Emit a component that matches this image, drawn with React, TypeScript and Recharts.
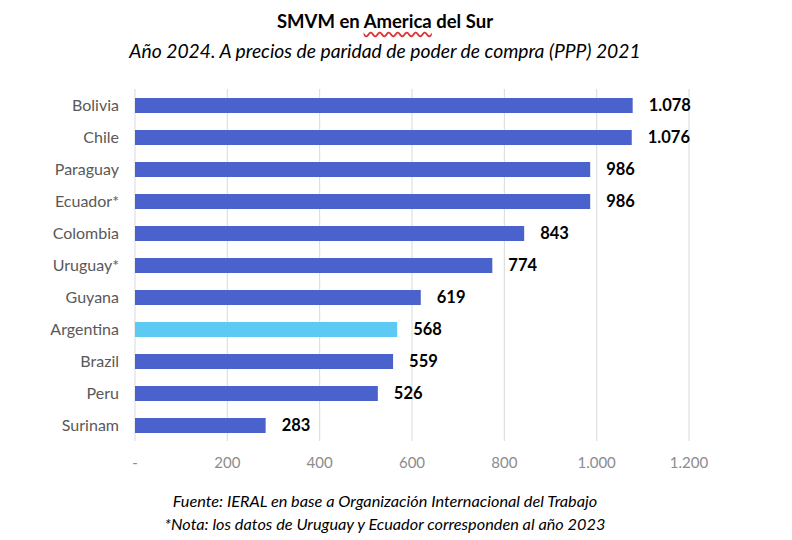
import { BarChart, Bar, XAxis, YAxis, CartesianGrid, Cell, LabelList } from 'recharts'

const countries = ['Bolivia', 'Chile', 'Paraguay', 'Ecuador*', 'Colombia', 'Uruguay*', 'Guyana', 'Argentina', 'Brazil', 'Peru', 'Surinam']
const smvm = [1078, 1076, 986, 986, 843, 774, 619, 568, 559, 526, 283]
const xTicks = [0, 200, 400, 600, 800, 1000, 1200]
const highlight = 'Argentina'

const BLUE = '#4a62cb'
const LIGHT = '#5ccaf3'
const FONT = 'Lato, "Noto Sans", sans-serif'

const data = countries.map((name, i) => ({ name, value: smvm[i] }))

// es-AR style thousands separator, "-" for zero like the excel original
const fmt = (v: number) => (v === 0 ? '-' : v.toLocaleString('de-DE'))

// text blocks in the original are centred a bit left of the page middle
const textBox = { position: 'absolute' as const, left: 0, width: 770, textAlign: 'center' as const, color: '#000' }

export default function App() {
  return (
    <div style={{ position: 'absolute', left: 0, top: 0, width: 792, height: 540, background: '#fff', fontFamily: FONT }}>
      <div style={{ ...textBox, top: 10, fontWeight: 700, fontSize: 18.5 }}>
        SMVM en{' '}
        <span style={{ textDecoration: 'underline wavy #d33', textUnderlineOffset: 3 }}>America</span> del Sur
      </div>
      <div style={{ ...textBox, top: 39, fontStyle: 'italic', fontSize: 19.3 }}>
        Año 2024. A precios de paridad de poder de compra (PPP) 2021
      </div>
      <BarChart
        width={792}
        height={540}
        data={data}
        layout="vertical"
        margin={{ top: 89, right: 103, left: 0, bottom: 69 }}
        barSize={15}
      >
        <CartesianGrid horizontal={false} stroke="#d9d9d9" />
        <XAxis
          type="number"
          domain={[0, 1200]}
          ticks={xTicks}
          tickFormatter={fmt}
          axisLine={false}
          tickLine={false}
          tickSize={0}
          tickMargin={16}
          height={30}
          tick={{ fill: '#8c8c8c', fontSize: 15, fontFamily: FONT }}
        />
        <YAxis
          type="category"
          dataKey="name"
          width={135}
          axisLine={false}
          tickLine={false}
          tickSize={0}
          tickMargin={16}
          tick={{ fill: '#595959', fontSize: 16, fontFamily: FONT }}
        />
        <Bar dataKey="value" isAnimationActive={false}>
          {data.map((d) => (
            <Cell key={d.name} fill={d.name === highlight ? LIGHT : BLUE} />
          ))}
          <LabelList
            dataKey="value"
            position="right"
            offset={16}
            formatter={(v: unknown) => fmt(Number(v))}
            style={{ fill: '#000', fontWeight: 700, fontSize: 16.5, fontFamily: FONT }}
          />
        </Bar>
      </BarChart>
      <div style={{ ...textBox, top: 489, fontStyle: 'italic', fontSize: 16.3, lineHeight: '23px' }}>
        Fuente: IERAL en base a Organización Internacional del Trabajo
        <br />
        *Nota: los datos de Uruguay y Ecuador corresponden al año 2023
      </div>
    </div>
  )
}
